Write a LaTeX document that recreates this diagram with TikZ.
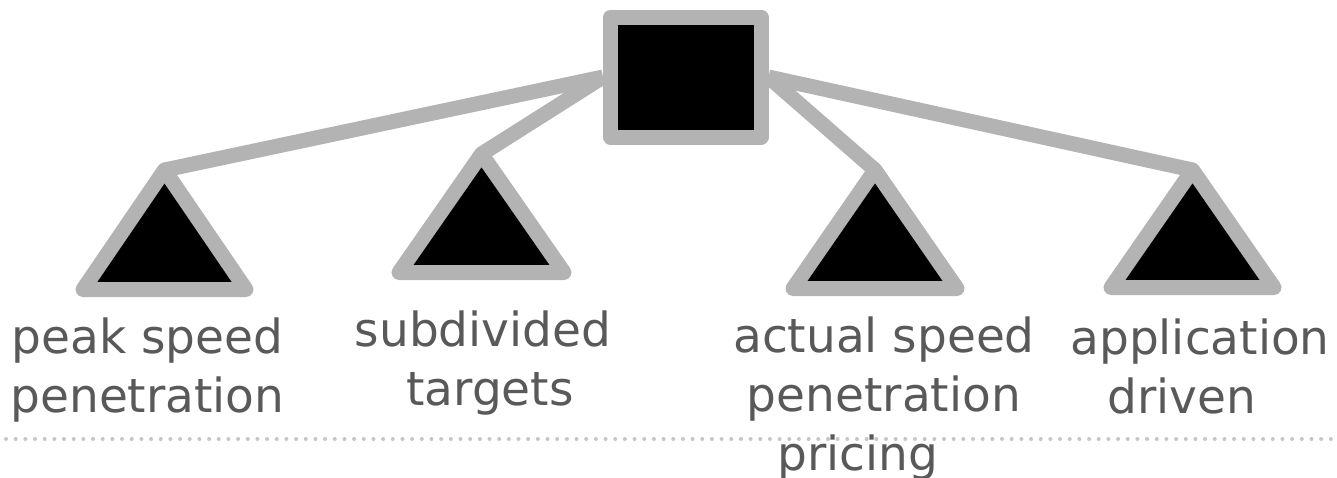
\documentclass[tikz,border=0pt]{standalone}
\usepackage{fontspec}
\setmainfont{DejaVu Sans}
\usetikzlibrary{backgrounds}
\definecolor{edgegray}{HTML}{B3B3B3}
\definecolor{textgray}{HTML}{595959}
\definecolor{dotgray}{HTML}{C6C6C6}
\begin{document}
\begin{tikzpicture}[x=1pt,y=-1pt,
  box/.style={draw=edgegray, line width=15pt, fill=black, rectangle, inner sep=0pt,
    minimum width=150.5pt, minimum height=120pt, line join=round},
  tri/.style={draw=edgegray, line width=15pt, fill=black, line join=round},
  conn/.style={draw=edgegray, line width=15pt},
  lab/.style={text=textgray, font=\fontsize{47}{59}\selectfont, align=center,
    inner sep=0pt, anchor=base},
  sep/.style={draw=dotgray, line width=4pt, line cap=round,
    dash pattern=on 0pt off 9.67pt}]
\useasboundingbox (0,0) rectangle (1337,477);
% separator
\coordinate (dl) at (6,439);
\coordinate (dr) at (1331,439);
\draw[sep] (dl) -- (dr);
% top square
\node[box] (sq) at (685.75,77) {};
% triangle apexes
\coordinate (t1) at (164.5,170);
\coordinate (t2) at (481.5,154);
\coordinate (t3) at (875,170);
\coordinate (t4) at (1192.5,170);
\begin{pgfonlayer}{background}
\draw[conn] (sq.west) -- (t1);
\draw[conn] (sq.west) -- (t2);
\draw[conn] (sq.east) -- (t3);
\draw[conn] (sq.east) -- (t4);
\end{pgfonlayer}
\draw[tri] (t1) -- ++(-81.5,119.5) -- ++(163,0) -- cycle;
\draw[tri] (t2) -- ++(-82.5,118.5) -- ++(165,0) -- cycle;
\draw[tri] (t3) -- ++(-82,118.5) -- ++(164,0) -- cycle;
\draw[tri] (t4) -- ++(-81.5,117.5) -- ++(163,0) -- cycle;
% labels (anchor=base is the baseline of the last line)
\node[lab] (l1) at (147.5,412) {peak speed\\penetration};
\node[lab] (l2) at (483,405) {subdivided\\\hspace*{14pt}targets};
\node[lab] (l3) at (884,470) {actual speed\\penetration\\pricing\hspace*{52pt}};
\node[lab] (l4) at (1200,413) {application\\driven\hspace*{36pt}};
\end{tikzpicture}
\end{document}
